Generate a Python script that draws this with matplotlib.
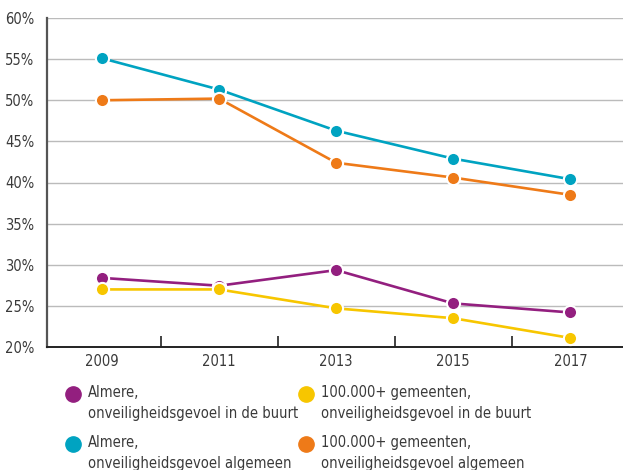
import matplotlib.pyplot as plt
from matplotlib.lines import Line2D
from matplotlib.ticker import FixedLocator

years = ["2009", "2011", "2013", "2015", "2017"]
almere_buurt = [28.4, 27.45, 29.35, 25.3, 24.2]
groot_buurt = [27.0, 27.0, 24.7, 23.5, 21.1]
almere_algemeen = [55.1, 51.3, 46.3, 42.9, 40.4]
groot_algemeen = [50.0, 50.2, 42.4, 40.6, 38.5]

labels = [
    "Almere,\nonveiligheidsgevoel in de buurt",
    "Almere,\nonveiligheidsgevoel algemeen",
    "100.000+ gemeenten,\nonveiligheidsgevoel in de buurt",
    "100.000+ gemeenten,\nonveiligheidsgevoel algemeen",
]
colors = ["#931f7f", "#00a3c1", "#f7c600", "#ee7a18"]
series = [almere_buurt, almere_algemeen, groot_buurt, groot_algemeen]

plt.rcParams['font.family'] = ['DejaVu Sans']
plt.rcParams['font.stretch'] = 'condensed'
text_color = "#3a3a3a"

fig = plt.figure(figsize=(6.23, 4.70), dpi=100)
ax = fig.add_axes([47 / 623, 1 - 347 / 470, 1 - 47 / 623, 329 / 470])

x = list(range(len(years)))
draw_order = [2, 0, 3, 1]
for i in draw_order:
    ax.plot(x, series[i], color=colors[i], lw=1.9, zorder=3 + i * 0.1,
            solid_capstyle="butt")
for i in draw_order:
    ax.plot(x, series[i], ls="none", marker="o", ms=9.5, mfc=colors[i],
            mec="white", mew=1.5, zorder=5 + i * 0.1)

ax.set_xlim(-0.47, 4.45)
ax.set_ylim(20, 60)
ax.set_yticks(range(20, 61, 5))
ax.set_yticklabels([f"{v}%" for v in range(20, 61, 5)])
ax.set_xticks(x)
ax.set_xticklabels(years)
ax.xaxis.set_minor_locator(FixedLocator([0.5, 1.5, 2.5, 3.5]))
ax.tick_params(axis="x", which="minor", direction="in", length=8, width=1.2,
               color="#222222")
ax.tick_params(axis="x", which="major", length=0, pad=5, labelsize=10.5,
               labelcolor=text_color)
ax.tick_params(axis="y", length=0, pad=9, labelsize=10.5,
               labelcolor=text_color)

for v in range(25, 61, 5):
    ax.axhline(v, color="#bbbbbb", lw=1.0, zorder=1)

for s in ["top", "right"]:
    ax.spines[s].set_visible(False)
ax.spines["left"].set_color("#555555")
ax.spines["left"].set_linewidth(1.6)
ax.spines["bottom"].set_color("#222222")
ax.spines["bottom"].set_linewidth(1.4)

# legend, two columns
legend_x = [73, 306]
legend_y = [394, 444]
for k, (lab, col) in enumerate(zip(labels, colors)):
    cx = legend_x[k // 2]
    cy = legend_y[k % 2]
    fig.add_artist(Line2D([cx / 623], [1 - cy / 470], marker="o", ms=11,
                          mfc=col, mec=col, ls="none",
                          transform=fig.transFigure))
    fig.text((cx + 15) / 623, 1 - (cy - 9) / 470, lab, fontsize=10.5,
             color=text_color, va="top", ha="left", linespacing=1.5)

fig.savefig("out.png", dpi=100)
